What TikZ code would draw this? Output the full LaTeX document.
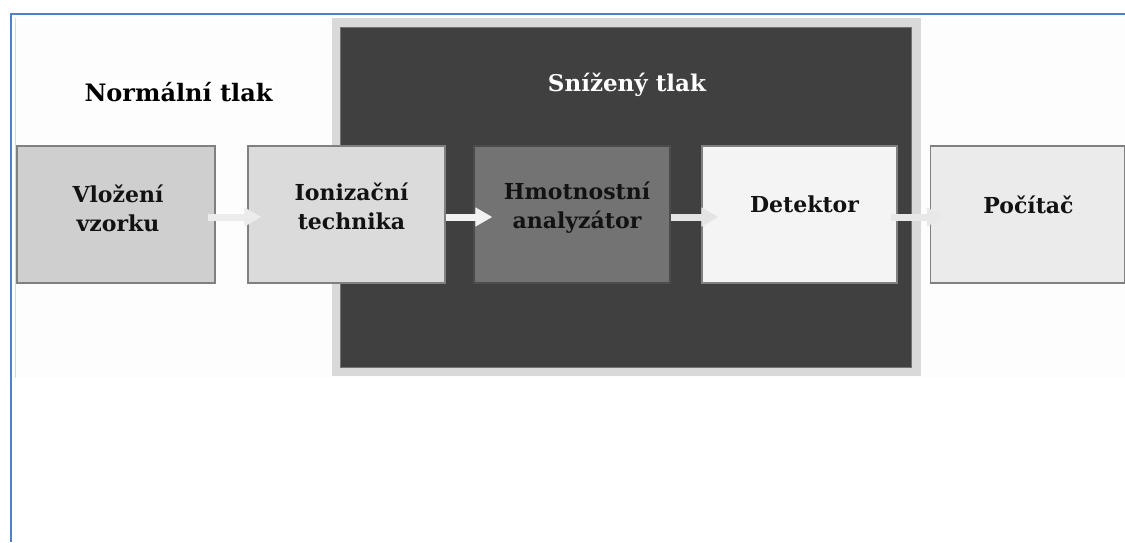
\documentclass[tikz,border=0pt]{standalone}
\usepackage{fontspec}
\setmainfont{DejaVu Serif}
\usetikzlibrary{arrows.meta}
\definecolor{bluebd}{RGB}{79,129,195}
\definecolor{paper}{RGB}{253,253,253}
\definecolor{frame}{RGB}{217,217,217}
\definecolor{darkbg}{RGB}{64,64,64}
\definecolor{boxedge}{RGB}{128,128,128}
\tikzset{
  stage/.style={draw=boxedge, line width=1.2pt, minimum width=#1, minimum height=137pt, inner sep=0pt},
  stage/.default=197pt,
  lbl/.style={font=\fontsize{22}{29}\selectfont\bfseries, align=center, text=black!93, inner sep=0pt},
  flow/.style={line width=7pt, -{Triangle[length=17pt,width=18pt]}, shorten <=0pt},
  title/.style={font=\fontsize{24}{29}\selectfont\bfseries, inner sep=2pt}
}
\begin{document}
\begin{tikzpicture}[x=1pt,y=-1pt]
\useasboundingbox (0,0) rectangle (1125,542);
\fill[white] (0,0) rectangle (1125,542);
% page area
\fill[paper] (15,18) rectangle (1125,378);
\draw[black!15, line width=0.8pt] (15.5,18) -- (15.5,378);
% blue frame
\draw[bluebd, line width=2pt] (10.5,542) -- (10.5,13.5) -- (1125,13.5);
% reduced pressure zone
\fill[frame] (332,18) rectangle (921,376);
\fill[darkbg] (340,27) rectangle (911,367);
\draw[black!55, line width=0.6pt] (340,27) rectangle (911,367);
% titles
\node[title, fill=white] (tn) at (178.5,92) {Normální tlak};
\node[title, text=white, font=\fontsize{23}{29}\selectfont\bfseries] (ts) at (627,85) {Snížený tlak};
% stages
\node[stage=198pt, fill={rgb,255:red,207;green,207;blue,207}] (b1) at (116,214.5) {};
\node[stage, fill={rgb,255:red,219;green,219;blue,219}] (b2) at (346.5,214.5) {};
\node[stage=196pt, fill={rgb,255:red,115;green,115;blue,115}, draw=black!70] (b3) at (572,214.5) {};
\node[stage=195pt, fill={rgb,255:red,244;green,244;blue,244}] (b4) at (799.5,214.5) {};
\node[stage=194pt, fill={rgb,255:red,235;green,235;blue,235}] (b5) at (1027.5,214.5) {};
% labels
\node[lbl] (l1) at ([xshift=2pt,yshift=6pt]b1.center) {Vložení\\vzorku};
\node[lbl] (l2) at ([xshift=5pt,yshift=8pt]b2.center) {Ionizační\\technika};
\node[lbl] (l3) at ([xshift=5pt,yshift=7pt]b3.center) {Hmotnostní\\analyzátor};
\node[lbl] (l4) at ([xshift=5pt,yshift=10pt]b4.center) {Detektor};
\node[lbl] (l5) at ([xshift=1pt,yshift=10pt]b5.center) {Počítač};
% arrows
\draw[flow, draw={rgb,255:red,236;green,236;blue,236}] ([xshift=-8pt,yshift=-2.5pt]b1.east) -- ([xshift=14pt,yshift=-2.5pt]b2.west);
\draw[flow, draw={rgb,255:red,242;green,242;blue,242}] ([xshift=0pt,yshift=-2.5pt]b2.east) -- ([xshift=19pt,yshift=-2.5pt]b3.west);
\draw[flow, draw={rgb,255:red,228;green,228;blue,228}] ([xshift=0pt,yshift=-2.5pt]b3.east) -- ([xshift=17pt,yshift=-2.5pt]b4.west);
\draw[flow, draw={rgb,255:red,232;green,232;blue,232}] ([xshift=-7pt,yshift=-2.5pt]b4.east) -- ([xshift=14pt,yshift=-2.5pt]b5.west);
\end{tikzpicture}
\end{document}
